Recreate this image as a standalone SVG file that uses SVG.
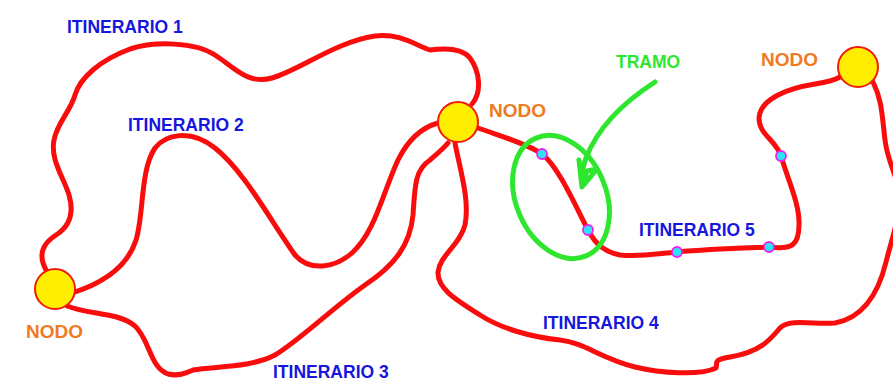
<svg xmlns="http://www.w3.org/2000/svg" width="893" height="382" viewBox="0 0 893 382">
<style>
  .route { fill: none; stroke: #F80C0C; stroke-width: 5; stroke-linecap: round; stroke-linejoin: round; }
  .node { fill: #FFEE00; stroke: #F21A0A; stroke-width: 2; }
  .dot { fill: #2EE4F0; stroke: #EE22EE; stroke-width: 1.8; }
  .lbl { font-family: "Liberation Sans", Arial, sans-serif; font-weight: bold; font-size: 17.5px; }
  .blue { fill: #1616E0; }
  .orange { fill: #F07A1E; font-size: 19px; }
  .green { fill: #2EE62E; }
  .gline { fill: none; stroke: #2EE62E; stroke-width: 5; stroke-linecap: round; stroke-linejoin: round; }
</style>
<rect width="893" height="382" fill="#FFFFFF"/>

<g id="connectors">
  <path id="itinerario-1" class="route" d="M 46 270 C 38 255, 42 244, 56 235 C 70 226, 74 212, 69 195 C 64 178, 50 160, 54 140 C 57 123, 70 112, 75 95 C 80 78, 100 60, 130 49 C 155 41, 195 42, 215 55 C 235 68, 248 85, 272 78 C 300 70, 335 42, 375 36 C 400 33, 415 45, 430 50 C 445 48, 462 48, 470 58 C 480 72, 482 92, 472 104"/>
  <path id="itinerario-2" class="route" d="M 75 292 C 105 282, 128 265, 136 240 C 144 215, 140 170, 155 148 C 165 135, 190 128, 215 148 C 245 172, 270 220, 295 255 C 310 272, 335 268, 352 253 C 375 232, 382 195, 398 160 C 408 140, 420 128, 438 123"/>
  <path id="itinerario-3" class="route" d="M 67 306 C 90 315, 118 312, 135 326 C 150 340, 150 368, 168 374 C 180 377, 188 372, 193 370 C 215 366, 250 368, 275 355 C 300 340, 330 310, 365 285 C 395 265, 410 245, 413 215 C 415 185, 415 170, 430 160 C 438 153, 444 148, 448 143"/>
  <path id="itinerario-4" class="route" d="M 455 143 C 460 170, 470 200, 465 225 C 460 245, 440 255, 438 272 C 437 290, 460 302, 480 315 C 500 328, 530 337, 560 340 C 585 343, 600 358, 635 367 C 660 373, 700 376, 716 368 C 718 362, 712 360, 730 357 C 760 352, 770 340, 780 328 C 790 318, 815 325, 835 323 C 862 318, 878 295, 886 262 C 893 235, 900 215, 900 200 C 900 180, 888 165, 885 140 C 882 115, 882 100, 873 82"/>
  <path id="itinerario-5" class="route" d="M 478 128 C 500 136, 528 144, 542 154 C 558 166, 575 205, 588 230 C 596 245, 605 252, 620 255 C 640 257, 655 254, 677 252 C 710 249, 745 248, 769 247 C 792 250, 799 245, 799 225 C 800 205, 788 180, 781 156 C 776 140, 759 135, 759 118 C 760 98, 790 88, 815 84 C 828 82, 835 80, 840 77"/>
  <circle class="dot" cx="542" cy="154" r="5"/>
  <circle class="dot" cx="588" cy="230" r="5"/>
  <circle class="dot" cx="677" cy="252" r="5"/>
  <circle class="dot" cx="769" cy="247" r="5"/>
  <circle class="dot" cx="781" cy="156" r="5"/>
  <text class="lbl blue" x="67" y="33">ITINERARIO 1</text>
  <text class="lbl blue" x="128" y="131">ITINERARIO 2</text>
  <text class="lbl blue" x="273" y="378">ITINERARIO 3</text>
  <text class="lbl blue" x="543" y="329">ITINERARIO 4</text>
  <text class="lbl blue" x="639" y="236">ITINERARIO 5</text>
</g>

<g id="node-left">
  <circle class="node" cx="55" cy="289" r="20"/>
  <text class="lbl orange" x="26" y="338">NODO</text>
</g>
<g id="node-center">
  <circle class="node" cx="458" cy="122" r="20"/>
  <text class="lbl orange" x="489" y="117">NODO</text>
</g>
<g id="node-right">
  <circle class="node" cx="858" cy="67" r="20"/>
  <text class="lbl orange" x="761" y="66">NODO</text>
</g>

<g id="tramo">
  <ellipse class="gline" cx="561" cy="197" rx="45" ry="64" transform="rotate(-23 561 197)"/>
  <path class="gline" d="M 655 82 C 630 98, 600 122, 586 158 C 583 166, 582 172, 582 178"/>
  <path class="gline" d="M 579 160 L 582 187 L 597 169 L 587 171 L 583 183" fill="#2EE62E"/>
  <text class="lbl green" x="616" y="68">TRAMO</text>
</g>
</svg>
